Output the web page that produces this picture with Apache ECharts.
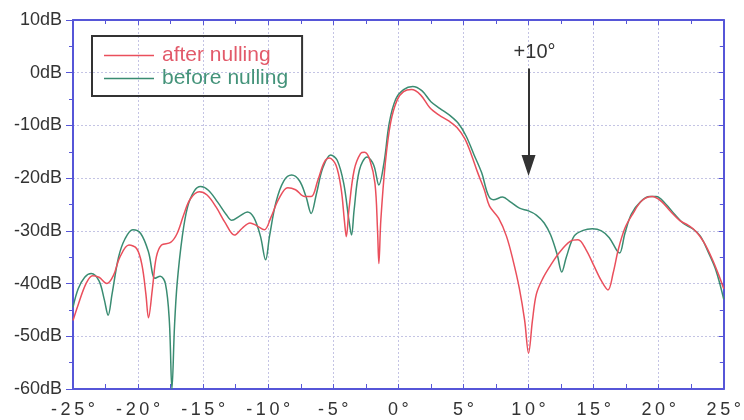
<!DOCTYPE html>
<html>
<head>
<meta charset="utf-8">
<script src="https://cdn.jsdelivr.net/npm/echarts@6/dist/echarts.min.js"></script>
<style>html,body{margin:0;padding:0;background:#fff}#c{width:744px;height:420px}</style>
</head>
<body>
<div id="c"></div>
<script>
// Angles (degrees) and levels (dB)
const beforeAngles = [-25,-24.6,-24.1,-23.6,-23.0,-22.6,-22.3,-22.0,-21.5,-21.0,-20.4,-19.8,-19.2,-18.7,-18.3,-17.9,-17.6,-17.4,-17.2,-17.0,-16.6,-16.2,-15.7,-15.2,-14.6,-13.9,-13.2,-12.8,-12.2,-11.6,-11.1,-10.6,-10.2,-9.9,-9.4,-8.8,-8.2,-7.6,-7.1,-6.7,-6.3,-5.8,-5.2,-4.7,-4.2,-3.8,-3.6,-3.4,-3.0,-2.4,-1.9,-1.5,-1.1,-0.7,-0.2,0.4,1.1,1.8,2.5,3.2,4.0,4.6,5.2,5.8,6.4,6.9,7.3,8.0,8.6,9.3,10.0,10.6,11.2,11.7,12.2,12.55,12.9,13.5,14.2,14.9,15.6,16.2,16.8,17.0,17.4,17.9,18.6,19.3,19.8,20.5,21.2,21.9,22.6,23.2,23.8,24.4,25.0];
const beforeDb = [-44.5,-41,-38.8,-38.1,-39.5,-43,-46,-42,-35,-31.5,-29.8,-30.5,-34,-39,-38.6,-40,-47,-60,-48,-40,-31,-25.5,-22.5,-21.6,-22.3,-24.5,-27,-28,-27.2,-26.4,-27.5,-31,-35.5,-31,-24.5,-20.5,-19.4,-20.5,-23.5,-26.7,-23,-18,-15.6,-16.6,-21,-28,-30.8,-26,-18.5,-16,-17.5,-21.3,-17,-9.5,-5,-3.2,-2.6,-3.4,-5.5,-6.8,-8.2,-9.6,-12,-15.5,-19,-23.2,-24.1,-23.6,-24.5,-25.7,-26.2,-27,-28.5,-30.8,-34.5,-37.8,-35,-31,-29.9,-29.6,-30,-31.3,-33.8,-34.2,-30.5,-26.8,-24.5,-23.5,-23.5,-24.8,-26.8,-28.6,-29.6,-31,-34,-37.5,-43];
const afterAngles = [-25,-24.6,-24.0,-23.5,-23.0,-22.4,-21.9,-21.4,-20.7,-20.1,-19.7,-19.4,-19.2,-18.9,-18.6,-18.2,-17.5,-17.0,-16.5,-16.0,-15.3,-14.7,-14.0,-13.3,-12.6,-12.0,-11.4,-10.9,-10.3,-9.8,-9.2,-8.5,-7.9,-7.2,-6.7,-6.2,-5.7,-5.3,-4.8,-4.4,-4.15,-4.0,-3.8,-3.4,-2.9,-2.6,-2.2,-1.8,-1.6,-1.5,-1.35,-1.0,-0.6,-0.1,0.4,1.0,1.7,2.4,3.1,3.9,4.5,5.1,5.6,6.1,6.6,7.0,7.7,8.3,8.8,9.3,9.7,10.0,10.3,10.6,11.1,11.7,12.4,13.2,13.8,14.4,15.0,15.6,16.1,16.5,16.9,17.4,18.0,18.7,19.5,20.2,20.9,21.6,22.3,22.9,23.5,24.1,24.6,25.0];
const afterDb = [-47,-44,-40,-38.5,-38.8,-40,-38.5,-35,-32.7,-33.4,-36.5,-42,-46.5,-41,-35,-32.7,-32.2,-30.5,-27,-24,-22.6,-23.2,-25.5,-28.5,-30.8,-29.5,-28.5,-29,-29.8,-27.5,-24,-21.8,-22.2,-23.5,-23.5,-20.5,-17,-16.2,-17.5,-22,-28,-31.1,-26,-18.5,-15.3,-15.1,-16.5,-21,-30,-36.2,-28,-17,-9.5,-5.2,-3.6,-3.2,-4.2,-6.6,-8,-9.2,-10.4,-12.5,-15.5,-19,-22.2,-25.3,-27.6,-31,-35.5,-41,-47,-53.2,-47,-42,-39,-36.5,-34,-32,-31.7,-33.5,-36.5,-39.5,-41.2,-38,-33.5,-29.5,-26.8,-24.3,-23.5,-24.4,-26.3,-28,-29,-30.2,-32.3,-35.3,-38.3,-41];
const seriesNames = ['after nulling', 'before nulling'];
const annotation = {label: '+10°', angle: 10, fromDb: 0.8, toDb: -17.6};

const zip = (a, b) => a.map((x, i) => [x, b[i]]);
const axisBlue = '#5656d8';
const gridCol = '#c4c4e4';
const font = 'Liberation Sans';
const spaced = s => s.split('').join('\u2009');

const chart = echarts.init(document.getElementById('c'));
chart.setOption({
  animation: false,
  backgroundColor: '#fff',
  grid: {left: 73, right: 15, top: 20, bottom: 31},
  legend: {
    left: 92, top: 36, orient: 'vertical',
    padding: [9, 14, 7, 12],
    itemGap: 2,
    borderColor: '#333', borderWidth: 2,
    icon: 'rect', itemWidth: 50, itemHeight: 1.5,
    textStyle: {fontFamily: font, fontSize: 21, lineHeight: 20, padding: [0, 0, 0, 3]},
    data: [
      {name: seriesNames[0], textStyle: {color: '#e25a6a'}},
      {name: seriesNames[1], textStyle: {color: '#44937a'}}
    ]
  },
  xAxis: [{
    type: 'value', min: -25, max: 25, interval: 5, position: 'bottom',
    axisLine: {onZero: false, lineStyle: {color: axisBlue, width: 2}},
    axisTick: {inside: true, length: 5, lineStyle: {color: axisBlue}},
    minorTick: {show: true, splitNumber: 2, length: 5, lineStyle: {color: axisBlue}},
    axisLabel: {margin: 12, color: '#333', fontFamily: font, fontSize: 18,
      formatter: v => spaced(String(v)) + '\u2009°'},
    splitLine: {show: true, lineStyle: {color: gridCol, type: [2, 2], width: 1}}
  }, {
    type: 'value', min: -25, max: 25, interval: 5, position: 'top',
    axisLine: {onZero: false, lineStyle: {color: axisBlue, width: 2}},
    axisTick: {inside: true, length: 5, lineStyle: {color: axisBlue}},
    minorTick: {show: true, splitNumber: 2, length: 4, lineStyle: {color: axisBlue}},
    axisLabel: {show: false}, splitLine: {show: false}
  }],
  yAxis: [{
    type: 'value', min: -60, max: 10, interval: 10, position: 'left',
    axisLine: {show: true, onZero: false, lineStyle: {color: axisBlue, width: 2}},
    axisTick: {show: true, inside: false, length: 7, lineStyle: {color: axisBlue}},
    minorTick: {show: true, splitNumber: 2, length: 4, lineStyle: {color: axisBlue}},
    axisLabel: {margin: 11, color: '#333', fontFamily: font, fontSize: 18,
      formatter: v => v + 'dB'},
    splitLine: {show: true, lineStyle: {color: gridCol, type: [2, 2], width: 1}}
  }, {
    type: 'value', min: -60, max: 10, interval: 10, position: 'right',
    axisLine: {show: true, onZero: false, lineStyle: {color: axisBlue, width: 2}},
    axisTick: {show: true, inside: true, length: 5, lineStyle: {color: axisBlue}},
    minorTick: {show: true, splitNumber: 2, length: 4, lineStyle: {color: axisBlue}},
    axisLabel: {show: false}, splitLine: {show: false}
  }],
  series: [{
    name: seriesNames[0], type: 'line', smooth: 0.35, symbol: 'none',
    data: zip(afterAngles, afterDb),
    lineStyle: {color: '#ea4f5c', width: 1.5}, itemStyle: {color: '#ea4f5c'},
    z: 3
  }, {
    name: seriesNames[1], type: 'line', smooth: 0.35, symbol: 'none',
    data: zip(beforeAngles, beforeDb),
    lineStyle: {color: '#3a8c72', width: 1.5}, itemStyle: {color: '#3a8c72'},
    z: 2,
    markLine: {
      silent: true, animation: false,
      symbol: ['none', 'triangle'], symbolSize: [14, 21],
      lineStyle: {color: '#333', width: 2, type: 'solid'},
      label: {show: true, position: 'start', formatter: annotation.label,
        color: '#333', fontFamily: font, fontSize: 20, distance: 6, offset: [6, 0]},
      data: [[{coord: [annotation.angle, annotation.fromDb]}, {coord: [annotation.angle, annotation.toDb]}]]
    }
  }]
});
</script>
</body>
</html>
